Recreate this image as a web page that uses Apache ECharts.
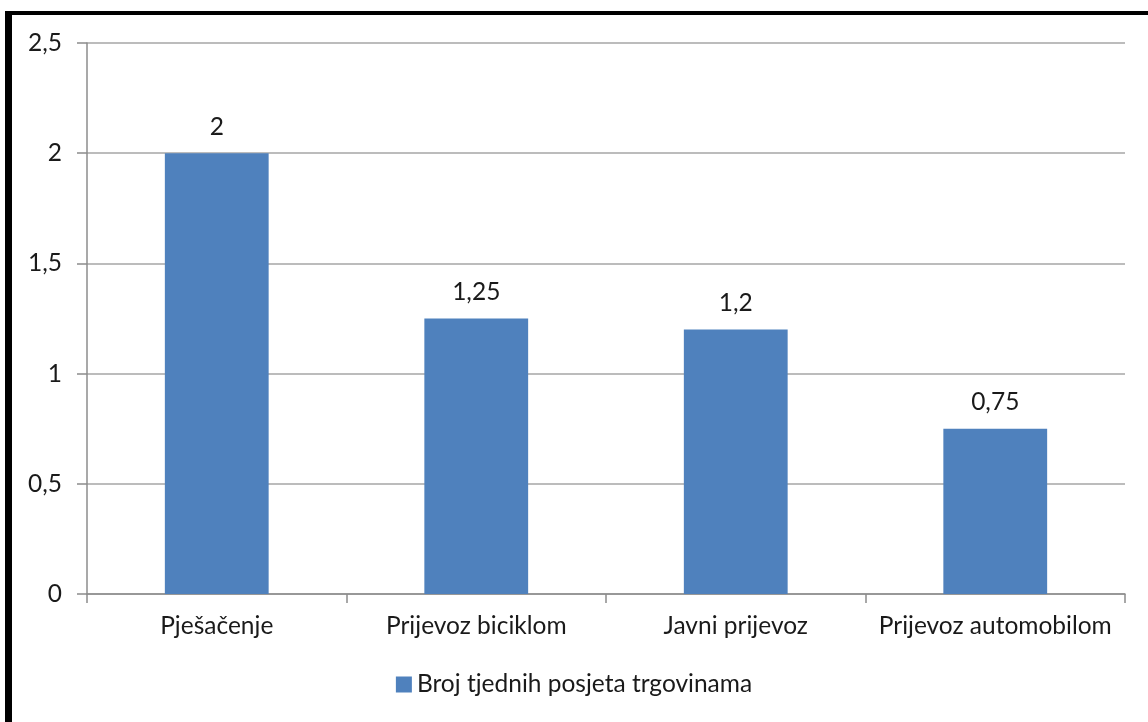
<!DOCTYPE html>
<html>
<head>
<meta charset="utf-8">
<style>
  html, body { margin: 0; padding: 0; background: #fff; }
  #chart { width: 1148px; height: 722px; }
</style>
<script src="https://cdn.jsdelivr.net/npm/echarts@6/dist/echarts.min.js"></script>
</head>
<body>
<div id="chart"></div>
<script>
// Weekly shop visits by mode of transport
const categories = ['Pješačenje', 'Prijevoz biciklom', 'Javni prijevoz', 'Prijevoz automobilom'];
const visits = [2, 1.25, 1.2, 0.75];
const seriesName = 'Broj tjednih posjeta trgovinama';
const yTicks = [0, 0.5, 1, 1.5, 2, 2.5];
const yTickLabels = ['0', '0,5', '1', '1,5', '2', '2,5'];

const FONT = 'Lato, "Open Sans", sans-serif';
const FONT_SIZE = 24.5;
const TEXT = '#1a1a1a';

function decimalComma(v) {
  return String(v).replace('.', ',');
}

const chart = echarts.init(document.getElementById('chart'), null, { renderer: 'canvas' });

chart.setOption({
  backgroundColor: '#ffffff',
  animation: false,
  textStyle: { fontFamily: FONT },
  graphic: [
    // frame: heavy black lines along left and top
    { type: 'rect', shape: { x: 5, y: 11, width: 7, height: 711 }, style: { fill: '#000' } },
    { type: 'rect', shape: { x: 5, y: 11, width: 1143, height: 4 }, style: { fill: '#000' } }
  ],
  grid: { left: 87, right: 23, top: 43, bottom: 128, containLabel: false },
  xAxis: {
    type: 'category',
    data: categories,
    boundaryGap: true,
    axisLine: { show: true, lineStyle: { color: '#8c8c8c', width: 1.5 } },
    axisTick: { show: true, alignWithLabel: false, length: 9, lineStyle: { color: '#8c8c8c', width: 1.5 } },
    axisLabel: { color: TEXT, fontSize: FONT_SIZE, fontFamily: FONT, margin: 20, interval: 0, hideOverlap: false },
    splitLine: { show: false }
  },
  yAxis: {
    type: 'value',
    min: yTicks[0],
    max: yTicks[yTicks.length - 1],
    interval: 0.5,
    axisLine: { show: true, lineStyle: { color: '#8c8c8c', width: 1.5 } },
    axisTick: { show: true, length: 10, lineStyle: { color: '#8c8c8c', width: 1.5 } },
    axisLabel: {
      color: TEXT, fontSize: FONT_SIZE, fontFamily: FONT, margin: 25,
      formatter: function (v) {
        const i = yTicks.findIndex(t => Math.abs(t - v) < 1e-9);
        return i >= 0 ? yTickLabels[i] : decimalComma(v);
      }
    },
    splitLine: { show: true, lineStyle: { color: '#a6a6a6', width: 1.5 } }
  },
  legend: {
    show: true,
    bottom: 20,
    left: 'center',
    itemWidth: 16,
    itemHeight: 16,
    itemGap: 10,
    icon: 'rect',
    textStyle: { color: TEXT, fontSize: FONT_SIZE, fontFamily: FONT },
    data: [seriesName]
  },
  series: [{
    name: seriesName,
    type: 'bar',
    data: visits,
    barWidth: '40%',
    itemStyle: { color: '#4f81bd' },
    label: {
      show: true,
      position: 'top',
      distance: 14,
      color: TEXT,
      fontSize: FONT_SIZE,
      fontFamily: FONT,
      formatter: function (p) { return decimalComma(p.value); }
    }
  }]
});
</script>
</body>
</html>
